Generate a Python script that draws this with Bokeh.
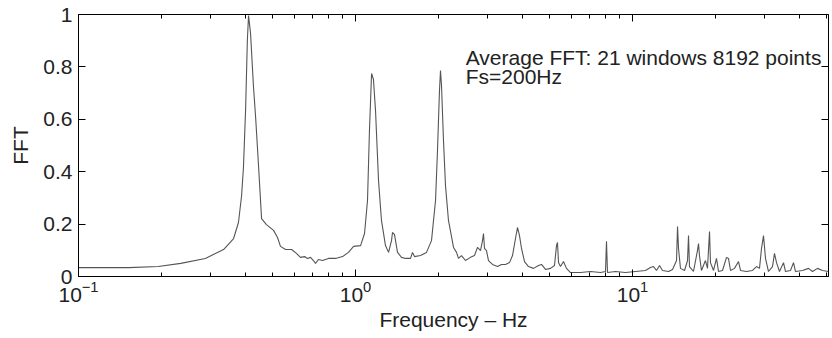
from bokeh.plotting import figure
from bokeh.models import (LogAxis, LinearAxis, FixedTicker, NumeralTickFormatter,
                          Label, Range1d, ColumnDataSource, LogTickFormatter)
from bokeh.embed import file_html
from bokeh.resources import INLINE

# Frequency (Hz) and averaged FFT magnitude
freq = [0.100, 0.152, 0.194, 0.234, 0.287, 0.334, 0.363, 0.378, 0.388, 0.394,
        0.401, 0.407, 0.411, 0.418, 0.428, 0.436, 0.447, 0.458, 0.477, 0.506,
        0.523, 0.536, 0.559, 0.588, 0.612, 0.633, 0.655, 0.671, 0.688, 0.705,
        0.717, 0.735, 0.760, 0.799, 0.847, 0.898, 0.943, 0.984, 1.043, 1.078,
        1.105, 1.123, 1.143, 1.161, 1.181, 1.211, 1.241, 1.283, 1.316, 1.349,
        1.360, 1.383, 1.418, 1.466, 1.515, 1.580, 1.606, 1.633, 1.717, 1.804,
        1.881, 1.945, 1.977, 2.010, 2.027, 2.044, 2.078, 2.113, 2.166, 2.259,
        2.316, 2.354, 2.414, 2.495, 2.601, 2.689, 2.757, 2.827, 2.874, 2.898,
        2.922, 2.971, 3.021, 3.123, 3.255, 3.366, 3.480, 3.598, 3.688, 3.781,
        3.844, 3.909, 3.975, 4.075, 4.212, 4.392, 4.578, 4.694, 4.852, 5.058,
        5.229, 5.316, 5.360, 5.406, 5.497, 5.635, 5.777, 5.973, 6.492, 7.054,
        7.665, 7.989, 8.056, 8.123, 8.681, 9.434, 10.25, 11.14, 11.61, 11.91,
        12.21, 12.52, 12.83, 13.49, 13.95, 14.42, 14.54, 14.66, 14.90, 15.41,
        15.80, 15.93, 16.06, 16.60, 17.16, 17.31, 17.45, 17.74, 18.34, 18.65,
        18.97, 19.12, 19.61, 20.10, 20.44, 21.13, 21.85, 22.21, 22.58, 23.34,
        24.14, 24.54, 25.80, 27.11, 28.03, 28.74, 29.22, 29.71, 30.21, 30.97,
        32.02, 32.55, 33.11, 33.94, 35.09, 35.67, 37.19, 38.13, 38.77, 41.09,
        43.19, 44.65, 46.55, 48.52, 51.00]
fft = [0.034, 0.034, 0.038, 0.050, 0.069, 0.103, 0.145, 0.206, 0.309, 0.416,
       0.634, 0.901, 0.996, 0.927, 0.729, 0.607, 0.416, 0.221, 0.198, 0.176,
       0.149, 0.115, 0.103, 0.103, 0.088, 0.073, 0.076, 0.069, 0.073, 0.061,
       0.050, 0.065, 0.061, 0.069, 0.069, 0.076, 0.092, 0.115, 0.118, 0.164,
       0.290, 0.557, 0.775, 0.752, 0.634, 0.366, 0.214, 0.118, 0.092, 0.137,
       0.168, 0.160, 0.092, 0.073, 0.069, 0.069, 0.092, 0.076, 0.080, 0.092,
       0.137, 0.290, 0.481, 0.710, 0.786, 0.729, 0.519, 0.347, 0.214, 0.111,
       0.092, 0.069, 0.080, 0.061, 0.073, 0.080, 0.111, 0.099, 0.137, 0.164,
       0.107, 0.099, 0.061, 0.046, 0.038, 0.046, 0.046, 0.053, 0.080, 0.145,
       0.187, 0.156, 0.107, 0.057, 0.038, 0.031, 0.042, 0.046, 0.027, 0.031,
       0.042, 0.118, 0.130, 0.053, 0.038, 0.057, 0.031, 0.015, 0.015, 0.019,
       0.015, 0.019, 0.134, 0.015, 0.019, 0.015, 0.019, 0.023, 0.034, 0.038,
       0.023, 0.042, 0.023, 0.019, 0.027, 0.061, 0.191, 0.107, 0.031, 0.023,
       0.061, 0.156, 0.038, 0.019, 0.099, 0.126, 0.080, 0.023, 0.061, 0.031,
       0.172, 0.053, 0.023, 0.069, 0.019, 0.023, 0.073, 0.069, 0.023, 0.031,
       0.057, 0.023, 0.019, 0.023, 0.038, 0.031, 0.107, 0.156, 0.069, 0.019,
       0.038, 0.088, 0.053, 0.019, 0.053, 0.019, 0.023, 0.053, 0.019, 0.023,
       0.031, 0.019, 0.031, 0.023, 0.019]

x_major = [0.1, 1, 10]
x_minor = [0.2, 0.3, 0.4, 0.5, 0.6, 0.7, 0.8, 0.9,
           2, 3, 4, 5, 6, 7, 8, 9, 20, 30, 40, 50]
y_ticks = [0, 0.2, 0.4, 0.6, 0.8, 1]

FONT = "Liberation Sans"
TXT = "#222222"
FS = "21px"

p = figure(width=832, height=338, x_axis_type="log",
           x_range=Range1d(0.1, 51.0), y_range=Range1d(0, 1),
           output_backend="svg", toolbar_location=None,
           min_border_left=78, min_border_right=4,
           min_border_top=14, min_border_bottom=62)
p.grid.visible = False
p.outline_line_color = "black"
p.outline_line_width = 1
p.background_fill_color = "white"
p.border_fill_color = "white"

src = ColumnDataSource(dict(f=freq, v=fft))
p.line("f", "v", source=src, line_color="#555555", line_width=1.1)

xt = FixedTicker(ticks=x_major, minor_ticks=x_minor)
yt = FixedTicker(ticks=y_ticks)

xa = p.xaxis[0]
xa.ticker = xt
xa.formatter = LogTickFormatter()
xa.axis_label = "Frequency \u2013 Hz"
ya = p.yaxis[0]
ya.ticker = yt
ya.formatter = NumeralTickFormatter(format="0.[0]")
ya.axis_label = "FFT"

for ax in (xa, ya):
    ax.major_tick_in = 7
    ax.major_tick_out = 0
    ax.minor_tick_in = 4
    ax.minor_tick_out = 0
    ax.axis_line_color = "black"
    ax.major_tick_line_color = "black"
    ax.minor_tick_line_color = "black"
    ax.major_label_text_font = FONT
    ax.major_label_text_font_size = FS
    ax.major_label_text_color = TXT
    ax.axis_label_text_font = FONT
    ax.axis_label_text_font_size = FS
    ax.axis_label_text_font_style = "normal"
    ax.axis_label_text_color = TXT
ya.minor_tick_line_color = None
xa.major_label_standoff = 4
xa.axis_label_standoff = 3
ya.major_label_standoff = 6
ya.axis_label_standoff = 8

top = LogAxis(ticker=xt, formatter=LogTickFormatter(),
              major_label_text_font_size="1px", major_label_text_color=None,
              major_tick_in=7, major_tick_out=0, minor_tick_in=4, minor_tick_out=0,
              axis_line_color=None, major_label_standoff=0)
right = LinearAxis(ticker=yt, formatter=NumeralTickFormatter(format="0.[0]"),
                   major_label_text_font_size="1px", major_label_text_color=None,
                   major_tick_in=7, major_tick_out=0, minor_tick_line_color=None,
                   axis_line_color=None, major_label_standoff=0)
p.add_layout(top, "above")
p.add_layout(right, "right")

p.add_layout(Label(x=2.50, y=0.835, text="Average FFT: 21 windows 8192 points",
                   text_font=FONT, text_font_size=FS, text_color=TXT,
                   text_baseline="alphabetic"))
p.add_layout(Label(x=2.50, y=0.765, text="Fs=200Hz",
                   text_font=FONT, text_font_size=FS, text_color=TXT,
                   text_baseline="alphabetic"))

open("out.html", "w").write(file_html(p, INLINE))
